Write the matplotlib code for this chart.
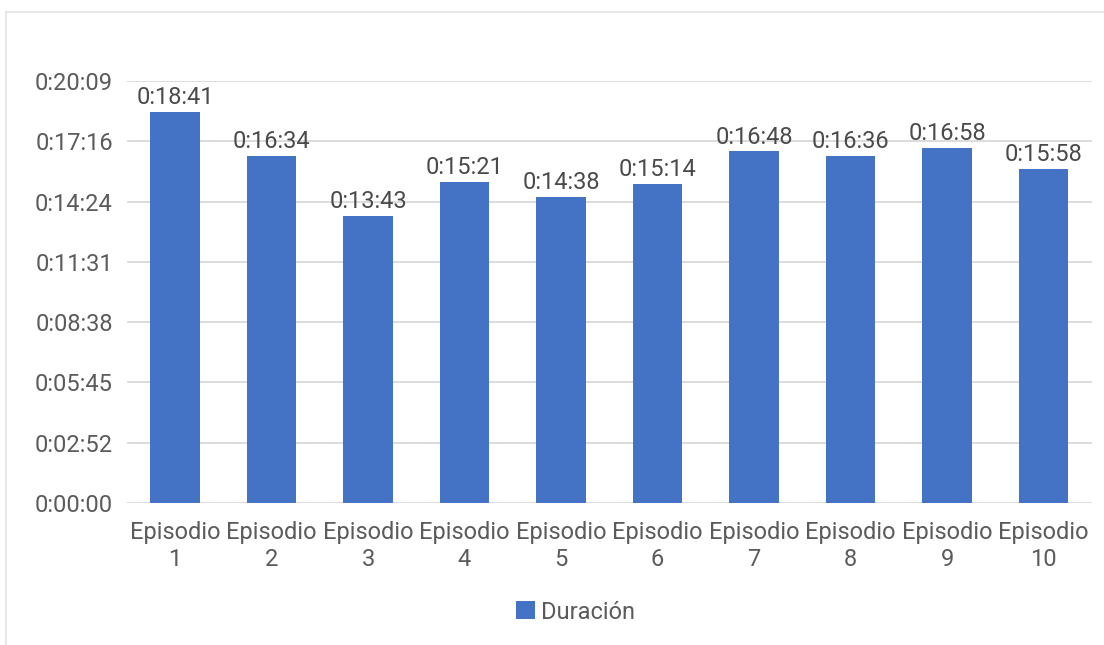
import matplotlib
matplotlib.use("Agg")
import matplotlib.pyplot as plt
from matplotlib.lines import Line2D
from matplotlib.ticker import FixedLocator, FuncFormatter

plt.rcParams['font.family'] = ['Roboto', 'DejaVu Sans']

# Episode durations (h:mm:ss)
categories = ["Episodio\n1", "Episodio\n2", "Episodio\n3", "Episodio\n4", "Episodio\n5",
              "Episodio\n6", "Episodio\n7", "Episodio\n8", "Episodio\n9", "Episodio\n10"]
durations = ["0:18:41", "0:16:34", "0:13:43", "0:15:21", "0:14:38",
             "0:15:14", "0:16:48", "0:16:36", "0:16:58", "0:15:58"]
series_name = "Duración"

# Axis ticks: steps of 1/500 of a day (172.8 s)
tick_step = 86400 / 500
n_ticks = 8


def to_seconds(s):
    h, m, sec = (int(p) for p in s.split(":"))
    return h * 3600 + m * 60 + sec


def fmt_time(v, _pos=None):
    t = int(v + 1e-6)
    return f"{t // 3600}:{(t % 3600) // 60:02d}:{t % 60:02d}"


values = [to_seconds(d) for d in durations]

BAR = "#4472C4"
GRID = "#D9D9D9"
TXT = "#5B5B5B"
FS = 17

fig = plt.figure(figsize=(11.04, 6.45), dpi=100)
ax = fig.add_axes([0.1148, 0.2202, 0.8742, 0.6542])

x = list(range(len(categories)))
bars = ax.bar(x, values, width=0.51, color=BAR, zorder=3, label=series_name)

ax.set_xlim(-0.5, len(categories) - 0.5)
ax.set_ylim(0, tick_step * (n_ticks - 1))
ax.yaxis.set_major_locator(FixedLocator([tick_step * k for k in range(n_ticks)]))
ax.yaxis.set_major_formatter(FuncFormatter(fmt_time))
ax.grid(axis="y", color=GRID, linewidth=1.3, zorder=0)
ax.set_axisbelow(True)

for s in ax.spines.values():
    s.set_visible(False)

ax.set_xticks(x)
ax.set_xticklabels(categories, linespacing=1.2)
ax.tick_params(axis="x", length=0, pad=13, labelsize=FS, labelcolor=TXT)
ax.tick_params(axis="y", length=0, pad=10, labelsize=FS, labelcolor=TXT)

for xi, v, lab in zip(x, values, durations):
    ax.annotate(lab, (xi, v), xytext=(0, 2), textcoords="offset points",
                ha="center", va="bottom", fontsize=FS, color="#4A4A4A")

fig.legend(handles=[bars], loc="center", bbox_to_anchor=(0.521, 0.051),
           frameon=False, handlelength=0.8, handleheight=0.8, handletextpad=0.25,
           prop={"size": FS}, labelcolor=TXT)

# Light frame around the chart
fx0, fy1 = 6 / 1104, 1 - 12 / 645
fig.add_artist(Line2D([fx0, 1], [fy1, fy1], color="#E3E3E3", linewidth=1.2))
fig.add_artist(Line2D([fx0, fx0], [0, fy1], color="#E3E3E3", linewidth=1.2))

fig.savefig("out.png", dpi=100, facecolor="white")
